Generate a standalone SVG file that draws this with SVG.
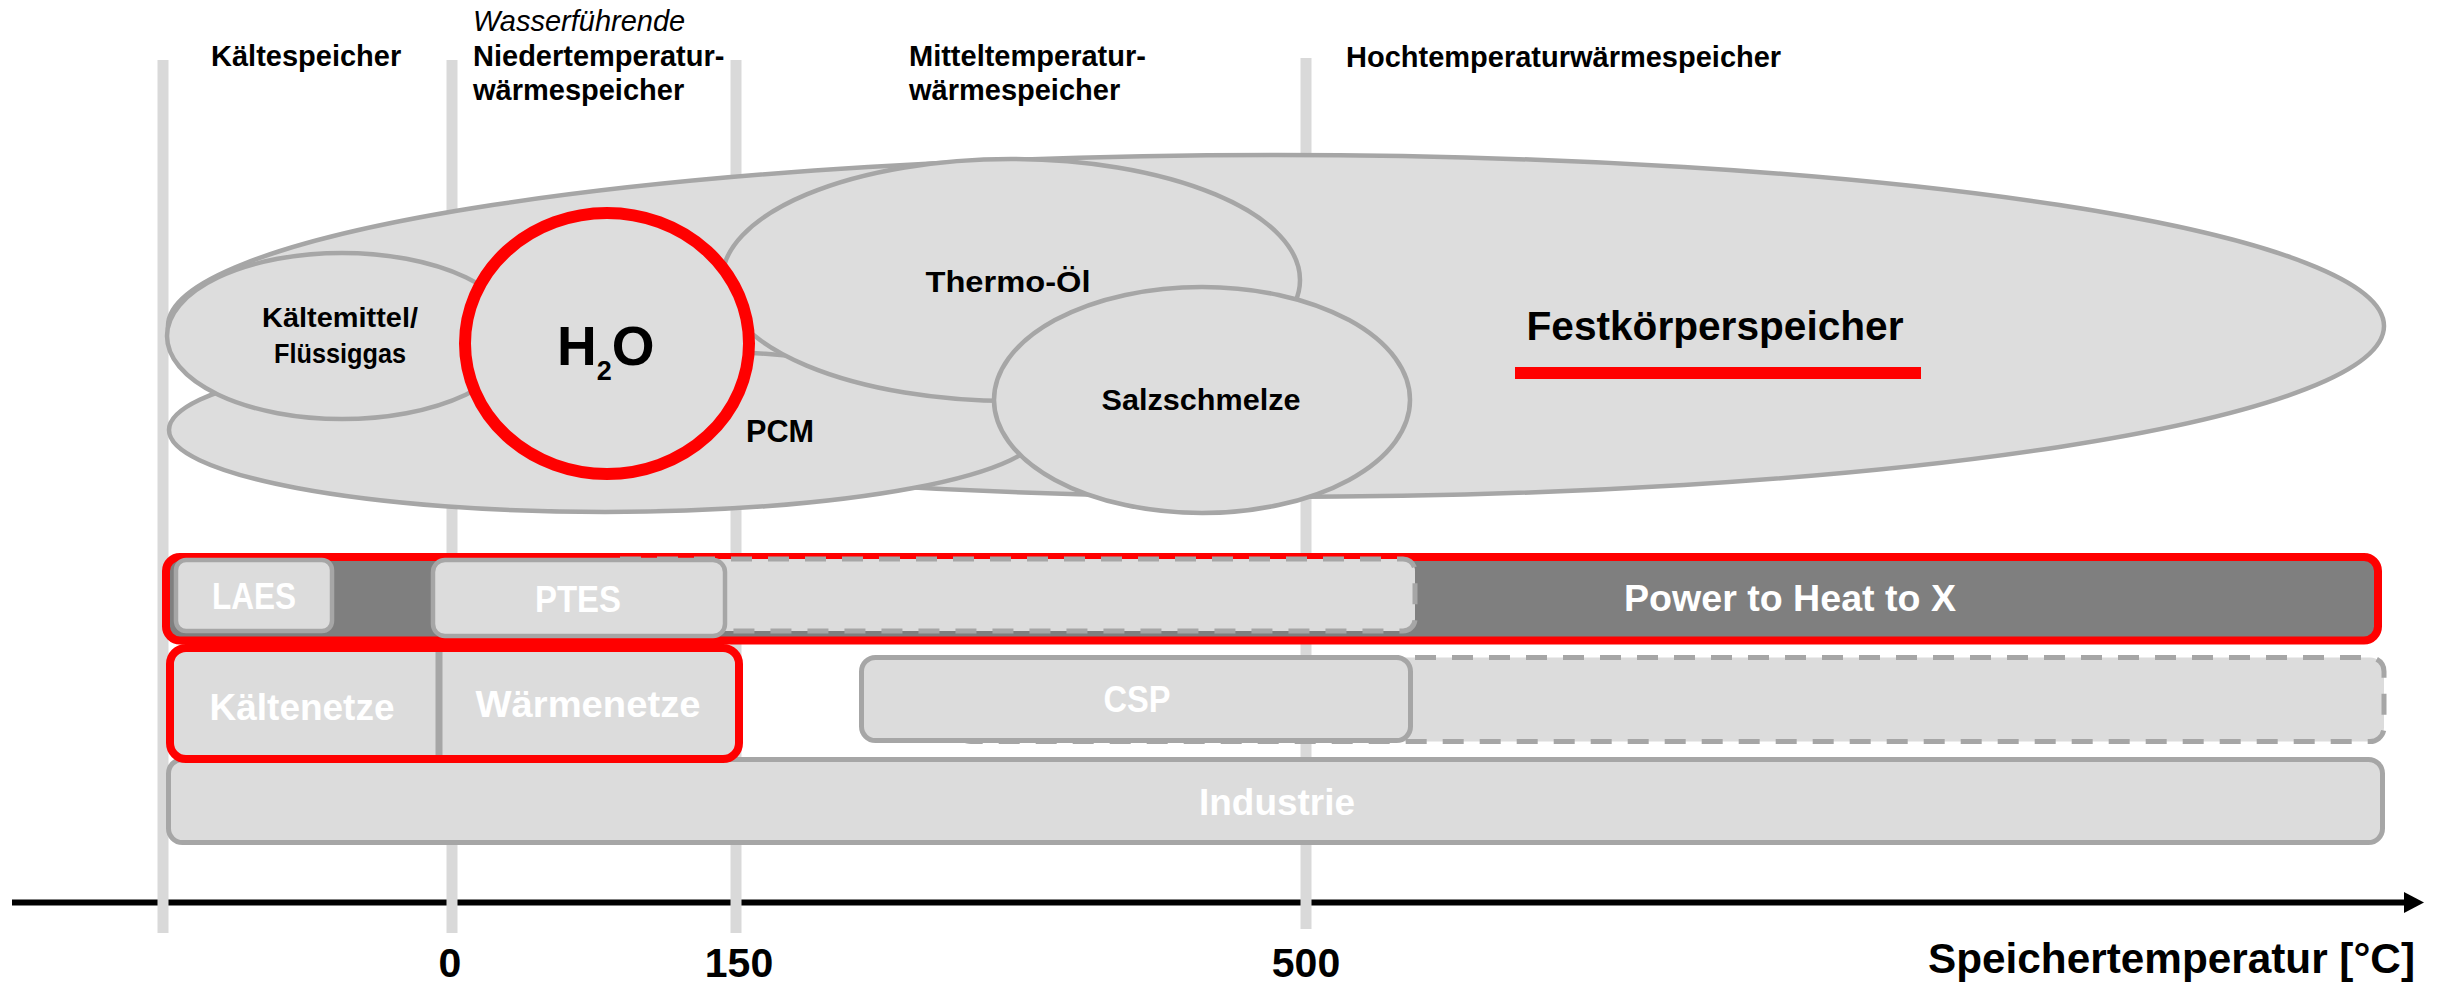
<svg xmlns="http://www.w3.org/2000/svg" width="2443" height="983" viewBox="0 0 2443 983">
<style>
.vl{stroke:#d9d9d9;stroke-width:11;fill:none}
.el{fill:#dddddd;stroke:#a6a6a6;stroke-width:4.5}
.bx{fill:#dcdcdc;stroke:#a6a6a6;stroke-width:5}
.dash{fill:#dcdcdc;stroke:#a6a6a6;stroke-width:5;stroke-dasharray:21 16}
.red{stroke:#ff0000;stroke-width:8}
.hd{font-family:"Liberation Sans",Arial,sans-serif;font-weight:bold;font-size:29px;fill:#000}
.it{font-family:"Liberation Sans",Arial,sans-serif;font-style:italic;font-size:29px;fill:#000}
.lb{font-family:"Liberation Sans",Arial,sans-serif;font-weight:bold;fill:#000;text-anchor:middle}
.wt{font-family:"Liberation Sans",Arial,sans-serif;font-weight:bold;fill:#ffffff;text-anchor:middle;font-size:37px}
.ax{font-family:"Liberation Sans",Arial,sans-serif;font-weight:bold;fill:#000;font-size:41px;text-anchor:middle}
</style>
<defs>
<marker id="arr" markerUnits="userSpaceOnUse" markerWidth="20" markerHeight="21" refX="0" refY="10.5" orient="auto">
<path d="M0,0 L20,10.5 L0,21 z" fill="#000"/>
</marker>
</defs>
<rect x="0" y="0" width="2443" height="983" fill="#ffffff"/>

<g id="connectors">
<line x1="12" y1="902.5" x2="2404" y2="902.5" stroke="#000" stroke-width="6" marker-end="url(#arr)"/>
</g>

<g id="gridlines">
<line class="vl" x1="163" y1="60" x2="163" y2="933"/>
<line class="vl" x1="452" y1="60" x2="452" y2="933"/>
<line class="vl" x1="736" y1="60" x2="736" y2="933"/>
<line class="vl" x1="1306" y1="58" x2="1306" y2="929"/>
</g>

<g id="headers">
<text class="hd" x="211" y="66">Kältespeicher</text>
<text class="it" x="473" y="31">Wasserführende</text>
<text class="hd" x="473" y="66">Niedertemperatur-</text>
<text class="hd" x="473" y="100">wärmespeicher</text>
<text class="hd" x="909" y="66">Mitteltemperatur-</text>
<text class="hd" x="909" y="100">wärmespeicher</text>
<text class="hd" x="1346" y="67">Hochtemperaturwärmespeicher</text>
</g>

<g id="festkoerper">
<ellipse class="el" cx="1276" cy="326" rx="1108" ry="171"/>
<text class="lb" x="1715" y="340" font-size="40" textLength="377" lengthAdjust="spacingAndGlyphs">Festkörperspeicher</text>
<rect x="1515" y="367" width="406" height="12" fill="#ff0000"/>
</g>

<g id="pcm">
<ellipse class="el" cx="605" cy="430" rx="436" ry="82"/>
<text class="lb" x="780" y="442" font-size="32" textLength="68" lengthAdjust="spacingAndGlyphs">PCM</text>
</g>

<g id="thermooel">
<ellipse class="el" cx="1011" cy="280" rx="289" ry="121"/>
<text class="lb" x="1008" y="292" font-size="30" textLength="165" lengthAdjust="spacingAndGlyphs">Thermo-Öl</text>
</g>

<g id="salzschmelze">
<ellipse class="el" cx="1202" cy="400" rx="208" ry="113"/>
<text class="lb" x="1201" y="410" font-size="30" textLength="199" lengthAdjust="spacingAndGlyphs">Salzschmelze</text>
</g>

<g id="kaeltemittel">
<ellipse class="el" cx="342" cy="336" rx="175" ry="83"/>
<text class="lb" x="340" y="327" font-size="28" textLength="156" lengthAdjust="spacingAndGlyphs">Kältemittel/</text>
<text class="lb" x="340" y="363" font-size="28" textLength="132" lengthAdjust="spacingAndGlyphs">Flüssiggas</text>
</g>

<g id="h2o">
<ellipse cx="607" cy="343.5" rx="142" ry="130.5" fill="#dddddd" stroke="#ff0000" stroke-width="12"/>
<text class="hd" x="557" y="365" style="font-size:55px">H<tspan style="font-size:27px" dy="15">2</tspan><tspan dy="-15">O</tspan></text>
</g>

<g id="power-to-heat">
<rect x="166" y="557" width="2212" height="83.5" rx="14" fill="#7f7f7f" class="red"/>
<rect class="dash" x="608" y="559" width="807" height="72" rx="12"/>
<text class="wt" x="1790" y="611" textLength="332" lengthAdjust="spacingAndGlyphs">Power to Heat to X</text>
</g>

<g id="laes">
<rect x="176" y="560" width="156" height="71" rx="10" fill="#dcdcdc" stroke="#a6a6a6" stroke-width="4.5"/>
<text class="wt" x="254" y="609" textLength="84" lengthAdjust="spacingAndGlyphs">LAES</text>
</g>

<g id="ptes">
<rect x="433" y="560" width="292" height="76" rx="12" fill="#dcdcdc" stroke="#a6a6a6" stroke-width="4.5"/>
<text class="wt" x="578" y="612" textLength="86" lengthAdjust="spacingAndGlyphs">PTES</text>
</g>

<g id="industrie">
<rect class="bx" x="168.5" y="759.5" width="2214" height="83" rx="14"/>
<text class="wt" x="1277" y="815" textLength="156" lengthAdjust="spacingAndGlyphs">Industrie</text>
</g>

<g id="csp">
<rect class="dash" x="957" y="657.5" width="1427" height="84" rx="14"/>
<rect class="bx" x="861.5" y="657.5" width="549" height="83" rx="14"/>
<text class="wt" x="1137" y="712" style="font-size:36px" textLength="67" lengthAdjust="spacingAndGlyphs">CSP</text>
</g>

<g id="netze">
<rect x="170" y="648" width="569" height="111" rx="16" fill="#dcdcdc" class="red"/>
<line x1="439" y1="652" x2="439" y2="755" stroke="#a6a6a6" stroke-width="7"/>
<text class="wt" x="302" y="720" textLength="185" lengthAdjust="spacingAndGlyphs">Kältenetze</text>
<text class="wt" x="588" y="717" textLength="225" lengthAdjust="spacingAndGlyphs">Wärmenetze</text>
</g>

<g id="axis-labels">
<text class="ax" x="450" y="977">0</text>
<text class="ax" x="739" y="977">150</text>
<text class="ax" x="1306" y="977">500</text>
<text class="hd" x="1928" y="973" style="font-size:42px" textLength="487" lengthAdjust="spacingAndGlyphs">Speichertemperatur [°C]</text>
</g>
</svg>
